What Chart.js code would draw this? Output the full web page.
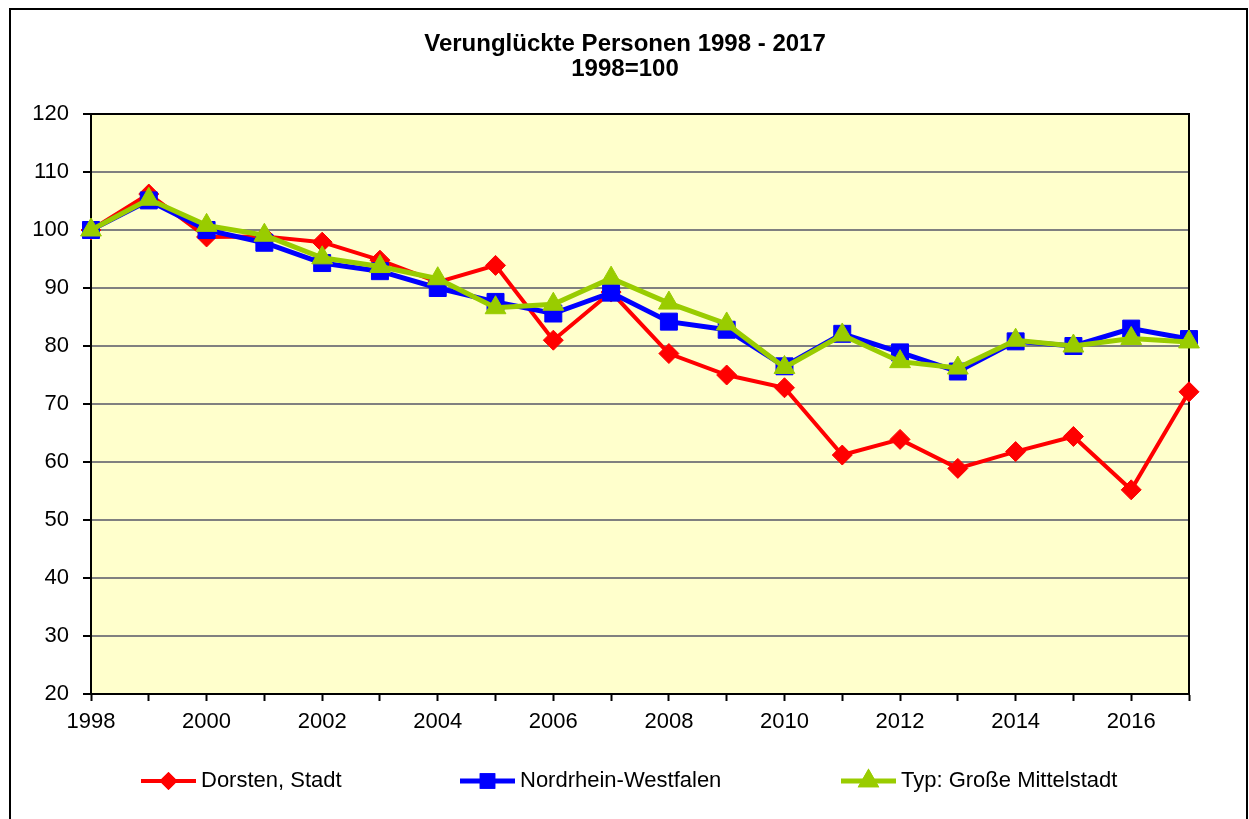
<!DOCTYPE html>
<html>
<head>
<meta charset="utf-8">
<script src="https://cdn.jsdelivr.net/npm/chart.js@4/dist/chart.umd.min.js"></script>
<style>
html,body{margin:0;padding:0;background:#fff;}
#wrap{width:1249px;height:819px;position:relative;}
</style>
</head>
<body>
<div id="wrap"><canvas id="c"></canvas></div>
<script>
const titleLines = ['Verunglückte Personen 1998 - 2017', '1998=100'];
const years = ['1998','1999','2000','2001','2002','2003','2004','2005','2006','2007','2008','2009','2010','2011','2012','2013','2014','2015','2016','2017'];
const dorsten = [100, 106.2, 98.8, 98.9, 97.9, 94.8, 91.0, 93.9, 81.0, 89.3, 78.7, 75.0, 72.8, 61.2, 63.9, 58.9, 61.8, 64.4, 55.2, 72.1];
const nrw = [100, 105.1, 100.0, 97.8, 94.3, 92.9, 90.0, 87.6, 85.6, 89.2, 84.2, 82.8, 76.5, 82.1, 78.9, 75.6, 80.8, 80.0, 83.0, 81.2];
const typ = [100, 105.3, 100.8, 99.1, 95.2, 93.7, 91.6, 86.6, 87.2, 91.7, 87.4, 83.8, 76.3, 81.9, 77.3, 76.2, 81.0, 80.0, 81.3, 80.7];
const seriesNames = ['Dorsten, Stadt', 'Nordrhein-Westfalen', 'Typ: Große Mittelstadt'];
const yTicks = {min: 20, max: 120, step: 10};

const FONT = '"Liberation Sans", Arial, sans-serif';

const decor = {
  id: 'decor',
  beforeDraw(chart) {
    const {ctx, chartArea: a} = chart;
    ctx.save();
    ctx.fillStyle = '#fff';
    ctx.fillRect(0, 0, chart.width, chart.height);
    ctx.fillStyle = '#FFFFCC';
    ctx.fillRect(a.left, a.top, a.right - a.left, a.bottom - a.top);
    ctx.restore();
  },
  beforeDatasetsDraw(chart) {
    const {ctx, chartArea: a} = chart;
    ctx.save();
    ctx.strokeStyle = '#000';
    ctx.lineWidth = 2;
    ctx.strokeRect(a.left, a.top, a.right - a.left, a.bottom - a.top);
    ctx.restore();
  },
  afterDraw(chart) {
    const {ctx} = chart;
    ctx.save();
    // outer frame
    ctx.strokeStyle = '#000';
    ctx.lineWidth = 2;
    ctx.strokeRect(10, 9, 1237, 830);
    // title
    ctx.fillStyle = '#000';
    ctx.font = 'bold 24px ' + FONT;
    ctx.textAlign = 'center';
    ctx.textBaseline = 'middle';
    const cx = (chart.chartArea.left + chart.chartArea.right) / 2 - 15;
    ctx.fillText(titleLines[0], cx, 44);
    ctx.fillText(titleLines[1], cx, 69);
    // legend
    const lx = [141, 460, 841];
    const ly = 781;
    chart.data.datasets.forEach((ds, i) => {
      ctx.strokeStyle = ds.borderColor;
      ctx.lineWidth = ds.borderWidth;
      ctx.beginPath();
      ctx.moveTo(lx[i], ly);
      ctx.lineTo(lx[i] + 55, ly);
      ctx.stroke();
      Chart.helpers.drawPoint(ctx, {
        pointStyle: ds.pointStyle,
        radius: ds.pointRadius * 0.62,
        borderWidth: 1,
        rotation: 0
      }, lx[i] + 27.5, ly);
      ctx.fillStyle = ds.pointBackgroundColor;
      ctx.strokeStyle = ds.pointBorderColor;
      ctx.fill();
      ctx.stroke();
      ctx.fillStyle = '#000';
      ctx.font = '22px ' + FONT;
      ctx.textAlign = 'left';
      ctx.textBaseline = 'middle';
      ctx.fillText(seriesNames[i], lx[i] + 60, ly);
    });
    ctx.restore();
  }
};

new Chart(document.getElementById('c'), {
  type: 'line',
  data: {
    labels: years,
    datasets: [
      {label: seriesNames[0], data: dorsten, borderColor: '#FF0000', backgroundColor: '#FF0000',
       pointBackgroundColor: '#FF0000', pointBorderColor: '#FF0000', borderWidth: 4,
       pointStyle: 'rectRot', pointRadius: 10, pointBorderWidth: 1, order: 3, tension: 0},
      {label: seriesNames[1], data: nrw, borderColor: '#0000FF', backgroundColor: '#0000FF',
       pointBackgroundColor: '#0000FF', pointBorderColor: '#0000FF', borderWidth: 5,
       pointStyle: 'rect', pointRadius: 12, pointBorderWidth: 1, order: 2, tension: 0},
      {label: seriesNames[2], data: typ, borderColor: '#99CC00', backgroundColor: '#99CC00',
       pointBackgroundColor: '#99CC00', pointBorderColor: '#99CC00', borderWidth: 5,
       pointStyle: 'triangle', pointRadius: 12, pointBorderWidth: 1, order: 1, tension: 0}
    ]
  },
  options: {
    responsive: true,
    maintainAspectRatio: false,
    animation: false,
    layout: {padding: {left: 10, right: 60, top: 114, bottom: 0}},
    plugins: {legend: {display: false}, title: {display: false}, tooltip: {enabled: false}},
    scales: {
      x: {
        type: 'category',
        offset: false,
        afterFit(s) { s.height = 125; },
        grid: {drawOnChartArea: false, drawTicks: true, tickLength: 7, tickColor: '#000', tickWidth: 2},
        border: {color: '#000', width: 2},
        ticks: {
          autoSkip: false, maxRotation: 0, minRotation: 0, padding: 8,
          color: '#000', font: {family: FONT, size: 22},
          callback(v, i) { return i % 2 === 0 ? years[i] : ''; }
        }
      },
      y: {
        min: yTicks.min, max: yTicks.max,
        afterFit(s) { s.width = 81; },
        grid: {color: '#808080', lineWidth: 2, tickColor: '#000', tickLength: 8, tickWidth: 2},
        border: {color: '#000', width: 2},
        ticks: {stepSize: yTicks.step, padding: 14, color: '#000', font: {family: FONT, size: 22}}
      }
    }
  },
  plugins: [decor]
});
</script>
</body>
</html>
